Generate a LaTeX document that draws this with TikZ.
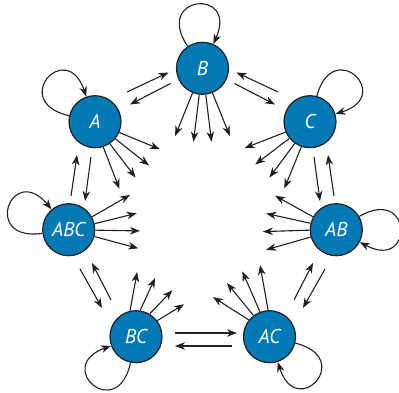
\documentclass[tikz,border=0pt]{standalone}
\usepackage{fontspec}
\setsansfont{PT Sans}
\usetikzlibrary{arrows.meta,calc}
\definecolor{nodeblue}{HTML}{0079B4}
\definecolor{ink}{HTML}{231F20}
\begin{document}
\begin{tikzpicture}[x=1pt,y=1pt,
  state/.style={circle, draw=ink, line width=1.2pt, fill=nodeblue, minimum size=52pt,
    inner sep=0pt, text=white, font=\sffamily\itshape\fontsize{20}{20}\selectfont},
  arr/.style={draw=ink, line width=1.1pt, -{Stealth[length=10pt,width=7.5pt,inset=3pt]}}]
\useasboundingbox (0,0) rectangle (399,393);
% states
\node[state] (B)   at (202.5,324.7) {B};
\node[state] (A)   at (95,271.3)    {A};
\node[state] (C)   at (310,271.3)   {C};
\node[state] (ABC) at (68.7,163.3)  {ABC};
\node[state] (AB)  at (336.3,163.3) {AB};
\node[state] (BC)  at (136,56.3)    {BC};
\node[state] (AC)  at (269.5,56.3)  {AC};
% self loops
\foreach \n/\d in {B/95, A/138, C/46, ABC/159, AB/1, AC/-43, BC/229}{
  \pgfmathsetmacro\sa{\d+29}\pgfmathsetmacro\ea{\d-29}
  \draw[arr] (\n.\sa) .. controls +(\sa:62pt) and +(\ea:62pt) .. (\n.\ea);
}
% fans toward the middle: start angle / end angle / end distance
\foreach \s/\e/\r in {248/248/73, 263/263/74, 277/277/74, 292/292/73}
  \draw[arr] (B.\s) -- ($(B)+(\e:\r pt)$);
\foreach \s/\e/\r in {-24/-23/70.5, -40/-39/69.5, -56/-54/69, -72/-70/71.5}
  \draw[arr] (A.\s) -- ($(A)+(\e:\r pt)$);
\foreach \s/\e/\r in {203/202/70.5, 219/218/69.5, 235/234/69, 251/249/71.5}
  \draw[arr] (C.\s) -- ($(C)+(\e:\r pt)$);
\foreach \s/\e/\r in {29/29.5/70.5, 13.5/13.6/70, -1/-1/71.3, -15/-15/72}
  \draw[arr] (ABC.\s) -- ($(ABC)+(\e:\r pt)$);
\foreach \s/\e/\r in {151/151/70, 166.5/167/72, 181.5/181.5/73.5, 196/196/73}
  \draw[arr] (AB.\s) -- ($(AB)+(\e:\r pt)$);
\foreach \s/\e/\r in {141/145/69, 127/128.4/68.4, 111/112.6/70.7, 93/97.5/72.3}
  \draw[arr] (AC.\s) -- ($(AC)+(\e:\r pt)$);
\foreach \s/\e/\r in {37/34/58, 59/52/59, 81/72/61.7, 103/89/64.7}
  \draw[arr] (BC.\s) -- ($(BC)+(\e:\r pt)$);
% pairs of arrows between neighbouring states
\coordinate (ab1) at (127,301);   \coordinate (ab2) at (168.5,320.5);
\coordinate (ba1) at (170.5,309.5); \coordinate (ba2) at (130,288.5);
\coordinate (cb1) at (278,301);   \coordinate (cb2) at (236.5,320.5);
\coordinate (bc1) at (234.5,309.5); \coordinate (bc2) at (275,288.5);
\coordinate (xa1) at (71,197);    \coordinate (xa2) at (77,238);
\coordinate (ax1) at (91,236);    \coordinate (ax2) at (85,192);
\coordinate (yc1) at (334,197);   \coordinate (yc2) at (328,238);
\coordinate (cy1) at (314,236);   \coordinate (cy2) at (320,192);
\coordinate (xz1) at (80,124);    \coordinate (xz2) at (102,85);
\coordinate (zx1) at (111,93);    \coordinate (zx2) at (92,130);
\coordinate (yw1) at (325,124);   \coordinate (yw2) at (303,85);
\coordinate (wy1) at (294,93);    \coordinate (wy2) at (313,130);
\coordinate (zw1) at (175,60);    \coordinate (zw2) at (237,60);
\coordinate (wz1) at (232,47);    \coordinate (wz2) at (175,47);
\foreach \p in {ab,ba,cb,bc,xa,ax,yc,cy,xz,zx,yw,wy,zw,wz}
  \draw[arr] (\p1) -- (\p2);
\end{tikzpicture}
\end{document}
